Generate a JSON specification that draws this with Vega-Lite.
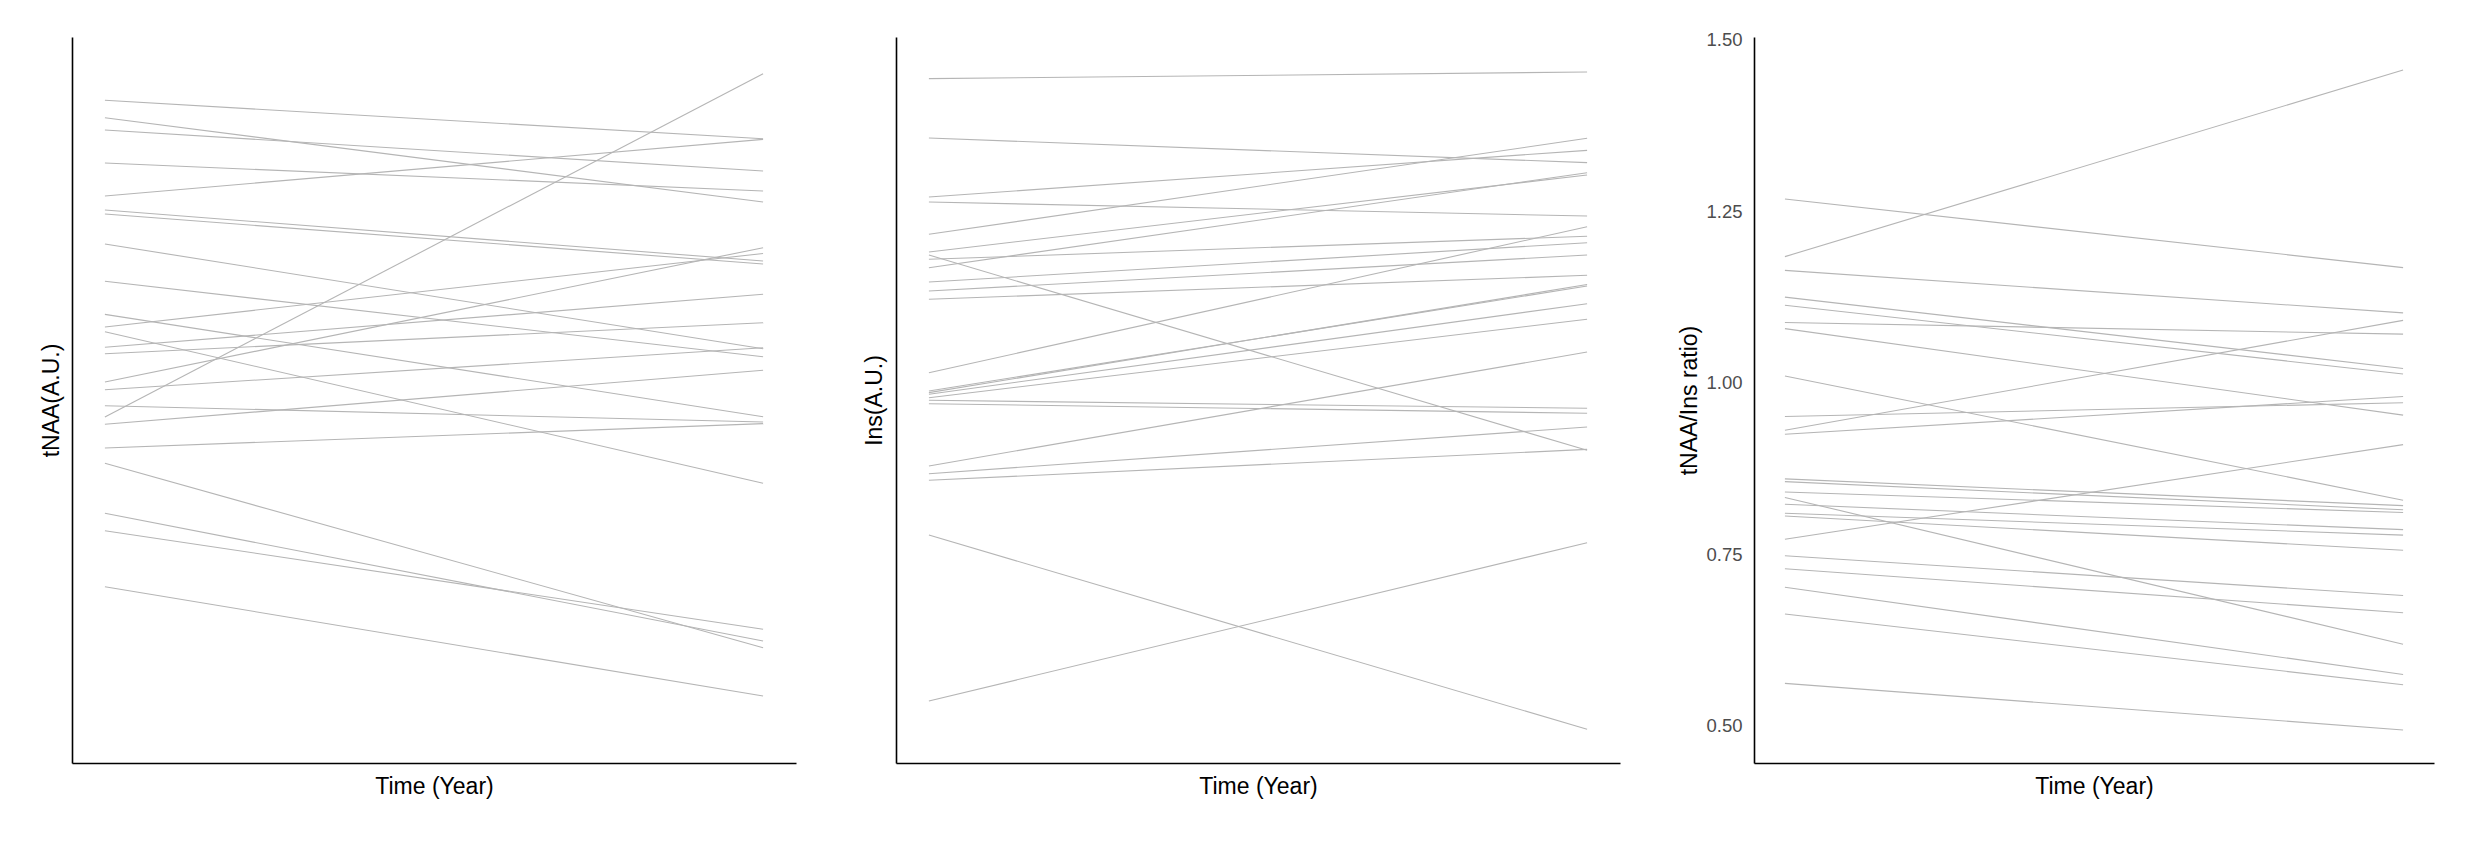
{
  "$schema": "https://vega.github.io/schema/vega-lite/v6.json",
  "background": "white",
  "padding": {"left": 40, "top": 30, "right": 5, "bottom": 5},
  "datasets": {
    "tnaa": [
      {"id":1,"t":0,"v":91.28},{"id":1,"t":1,"v":85.99},
      {"id":2,"t":0,"v":88.88},{"id":2,"t":1,"v":77.27},
      {"id":3,"t":0,"v":87.19},{"id":3,"t":1,"v":81.54},
      {"id":4,"t":0,"v":82.64},{"id":4,"t":1,"v":78.79},
      {"id":5,"t":0,"v":78.10},{"id":5,"t":1,"v":85.90},
      {"id":6,"t":0,"v":76.17},{"id":6,"t":1,"v":69.15},
      {"id":7,"t":0,"v":75.62},{"id":7,"t":1,"v":68.73},
      {"id":8,"t":0,"v":71.49},{"id":8,"t":1,"v":57.05},
      {"id":9,"t":0,"v":66.35},{"id":9,"t":1,"v":55.96},
      {"id":10,"t":0,"v":61.80},{"id":10,"t":1,"v":47.70},
      {"id":11,"t":0,"v":60.06},{"id":11,"t":1,"v":70.18},
      {"id":12,"t":0,"v":59.41},{"id":12,"t":1,"v":38.53},
      {"id":13,"t":0,"v":57.26},{"id":13,"t":1,"v":64.56},
      {"id":14,"t":0,"v":56.38},{"id":14,"t":1,"v":60.65},
      {"id":15,"t":0,"v":52.48},{"id":15,"t":1,"v":70.98},
      {"id":16,"t":0,"v":51.42},{"id":16,"t":1,"v":57.20},
      {"id":17,"t":0,"v":49.21},{"id":17,"t":1,"v":46.97},
      {"id":18,"t":0,"v":47.66},{"id":18,"t":1,"v":94.94},
      {"id":19,"t":0,"v":46.65},{"id":19,"t":1,"v":54.09},
      {"id":20,"t":0,"v":43.39},{"id":20,"t":1,"v":46.74},
      {"id":21,"t":0,"v":41.28},{"id":21,"t":1,"v":15.88},
      {"id":22,"t":0,"v":34.39},{"id":22,"t":1,"v":16.80},
      {"id":23,"t":0,"v":32.00},{"id":23,"t":1,"v":18.42},
      {"id":24,"t":0,"v":24.28},{"id":24,"t":1,"v":9.23}
    ],
    "ins": [
      {"id":1,"t":0,"v":94.26},{"id":1,"t":1,"v":95.18},
      {"id":2,"t":0,"v":86.09},{"id":2,"t":1,"v":82.69},
      {"id":3,"t":0,"v":77.96},{"id":3,"t":1,"v":84.39},
      {"id":4,"t":0,"v":77.27},{"id":4,"t":1,"v":75.34},
      {"id":5,"t":0,"v":72.82},{"id":5,"t":1,"v":86.05},
      {"id":6,"t":0,"v":70.39},{"id":6,"t":1,"v":81.00},
      {"id":7,"t":0,"v":69.97},{"id":7,"t":1,"v":43.07},
      {"id":8,"t":0,"v":69.38},{"id":8,"t":1,"v":72.55},
      {"id":9,"t":0,"v":68.22},{"id":9,"t":1,"v":81.31},
      {"id":10,"t":0,"v":66.25},{"id":10,"t":1,"v":71.67},
      {"id":11,"t":0,"v":65.01},{"id":11,"t":1,"v":69.97},
      {"id":12,"t":0,"v":63.87},{"id":12,"t":1,"v":67.18},
      {"id":13,"t":0,"v":53.76},{"id":13,"t":1,"v":73.87},
      {"id":14,"t":0,"v":51.24},{"id":14,"t":1,"v":65.70},
      {"id":15,"t":0,"v":51.01},{"id":15,"t":1,"v":65.90},
      {"id":16,"t":0,"v":50.79},{"id":16,"t":1,"v":63.26},
      {"id":17,"t":0,"v":50.32},{"id":17,"t":1,"v":61.12},
      {"id":18,"t":0,"v":49.96},{"id":18,"t":1,"v":48.86},
      {"id":19,"t":0,"v":49.49},{"id":19,"t":1,"v":48.17},
      {"id":20,"t":0,"v":40.91},{"id":20,"t":1,"v":56.61},
      {"id":21,"t":0,"v":39.85},{"id":21,"t":1,"v":46.28},
      {"id":22,"t":0,"v":38.94},{"id":22,"t":1,"v":43.20},
      {"id":23,"t":0,"v":31.40},{"id":23,"t":1,"v":4.64},
      {"id":24,"t":0,"v":8.54},{"id":24,"t":1,"v":30.34}
    ],
    "ratio": [
      {"id":1,"t":0,"v":1.268},{"id":1,"t":1,"v":1.168},
      {"id":2,"t":0,"v":1.184},{"id":2,"t":1,"v":1.456},
      {"id":3,"t":0,"v":1.164},{"id":3,"t":1,"v":1.102},
      {"id":4,"t":0,"v":1.125},{"id":4,"t":1,"v":1.021},
      {"id":5,"t":0,"v":1.113},{"id":5,"t":1,"v":1.013},
      {"id":6,"t":0,"v":1.088},{"id":6,"t":1,"v":1.071},
      {"id":7,"t":0,"v":1.079},{"id":7,"t":1,"v":0.953},
      {"id":8,"t":0,"v":1.010},{"id":8,"t":1,"v":0.829},
      {"id":9,"t":0,"v":0.951},{"id":9,"t":1,"v":0.971},
      {"id":10,"t":0,"v":0.931},{"id":10,"t":1,"v":1.091},
      {"id":11,"t":0,"v":0.925},{"id":11,"t":1,"v":0.980},
      {"id":12,"t":0,"v":0.860},{"id":12,"t":1,"v":0.821},
      {"id":13,"t":0,"v":0.856},{"id":13,"t":1,"v":0.815},
      {"id":14,"t":0,"v":0.841},{"id":14,"t":1,"v":0.811},
      {"id":15,"t":0,"v":0.833},{"id":15,"t":1,"v":0.619},
      {"id":16,"t":0,"v":0.823},{"id":16,"t":1,"v":0.786},
      {"id":17,"t":0,"v":0.810},{"id":17,"t":1,"v":0.778},
      {"id":18,"t":0,"v":0.806},{"id":18,"t":1,"v":0.756},
      {"id":19,"t":0,"v":0.772},{"id":19,"t":1,"v":0.910},
      {"id":20,"t":0,"v":0.748},{"id":20,"t":1,"v":0.690},
      {"id":21,"t":0,"v":0.729},{"id":21,"t":1,"v":0.665},
      {"id":22,"t":0,"v":0.702},{"id":22,"t":1,"v":0.575},
      {"id":23,"t":0,"v":0.663},{"id":23,"t":1,"v":0.560},
      {"id":24,"t":0,"v":0.562},{"id":24,"t":1,"v":0.494}
    ]
  },
  "spacing": 58,
  "hconcat": [
    {
      "spacing": 67,
      "hconcat": [
        {
          "width": 724,
          "height": 726,
          "data": {"name": "tnaa"},
          "mark": {"type": "line", "color": "#b5b5b5", "strokeWidth": 1.1},
          "encoding": {
            "x": {"field": "t", "type": "quantitative", "scale": {"domain": [-0.05, 1.05], "nice": false, "zero": false}, "axis": {"title": "Time (Year)", "labels": false, "ticks": false, "titlePadding": 12}},
            "y": {"field": "v", "type": "quantitative", "scale": {"domain": [0, 100], "nice": false, "zero": false}, "axis": {"title": "tNAA(A.U.)", "labels": false, "ticks": false, "titlePadding": 9}},
            "detail": {"field": "id", "type": "nominal"}
          }
        },
        {
          "width": 724,
          "height": 726,
          "data": {"name": "ins"},
          "mark": {"type": "line", "color": "#b5b5b5", "strokeWidth": 1.1},
          "encoding": {
            "x": {"field": "t", "type": "quantitative", "scale": {"domain": [-0.05, 1.05], "nice": false, "zero": false}, "axis": {"title": "Time (Year)", "labels": false, "ticks": false, "titlePadding": 12}},
            "y": {"field": "v", "type": "quantitative", "scale": {"domain": [0, 100], "nice": false, "zero": false}, "axis": {"title": "Ins(A.U.)", "labels": false, "ticks": false, "titlePadding": 10}},
            "detail": {"field": "id", "type": "nominal"}
          }
        }
      ]
    },
    {
      "width": 680,
      "height": 726,
      "data": {"name": "ratio"},
      "mark": {"type": "line", "color": "#b5b5b5", "strokeWidth": 1.1},
      "encoding": {
        "x": {"field": "t", "type": "quantitative", "scale": {"domain": [-0.05, 1.05], "nice": false, "zero": false}, "axis": {"title": "Time (Year)", "labels": false, "ticks": false, "titlePadding": 12}},
        "y": {"field": "v", "type": "quantitative", "scale": {"domain": [0.4459, 1.5041], "nice": false, "zero": false}, "axis": {"title": "tNAA/Ins ratio)", "values": [0.5, 0.75, 1, 1.25, 1.5], "format": ".2f", "ticks": false, "labelPadding": 12, "titlePadding": 4}},
        "detail": {"field": "id", "type": "nominal"}
      }
    }
  ],
  "config": {
    "view": {"stroke": null},
    "axis": {
      "grid": false,
      "domainColor": "#000000",
      "domainWidth": 1.6,
      "titleFont": "Liberation Sans",
      "titleFontSize": 23,
      "titleFontWeight": "normal",
      "titleColor": "#000000",
      "labelFont": "Liberation Sans",
      "labelFontSize": 18.5,
      "labelColor": "#4d4d4d"
    }
  }
}
